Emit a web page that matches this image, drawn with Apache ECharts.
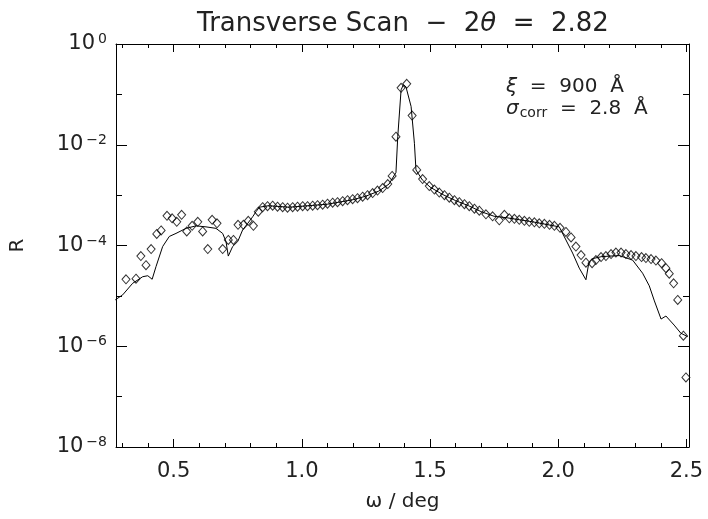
<!DOCTYPE html>
<html>
<head>
<meta charset="utf-8">
<script src="https://cdn.jsdelivr.net/npm/echarts@6/dist/echarts.min.js"></script>
<style>html,body{margin:0;padding:0;background:#fff}#c{width:708px;height:519px}</style>
</head>
<body>
<div id="c"></div>
<script>
// measured data (omega in deg, log10 R)
var dataOmega = [0.314,0.353,0.372,0.392,0.412,0.434,0.451,0.474,0.494,0.512,0.531,0.551,0.572,0.594,0.613,0.633,0.650,0.669,0.691,0.713,0.733,0.751,0.772,0.791,0.811,0.830,0.847,
0.866,0.886,0.905,0.925,0.944,0.964,0.983,1.003,1.022,1.042,1.061,1.081,1.100,1.120,1.139,1.159,1.178,1.198,1.217,1.237,1.256,1.276,1.295,1.315,1.335,1.352,1.367,1.387,1.409,1.430,1.448,1.471,1.497,1.517,1.536,1.556,1.575,1.595,1.614,1.634,1.653,1.673,1.692,1.718,1.744,1.770,1.790,1.809,1.829,1.848,1.868,1.887,1.907,1.926,1.946,1.966,1.985,2.007,2.030,2.050,2.069,2.089,2.108,2.132,2.147,2.167,2.186,2.206,2.225,2.245,2.264,2.284,2.303,2.325,2.342,2.362,2.381,2.403,2.420,2.433,2.450,2.466,2.488,2.498];
var dataLogR = [-4.67,-4.66,-4.21,-4.39,-4.07,-3.77,-3.70,-3.41,-3.46,-3.53,-3.39,-3.72,-3.61,-3.53,-3.72,-4.07,-3.49,-3.56,-4.07,-3.89,-3.89,-3.59,-3.59,-3.51,-3.61,-3.33,-3.24,
-3.22,-3.21,-3.23,-3.24,-3.25,-3.24,-3.23,-3.22,-3.22,-3.21,-3.20,-3.19,-3.17,-3.15,-3.14,-3.12,-3.10,-3.08,-3.06,-3.03,-3.00,-2.96,-2.91,-2.86,-2.78,-2.62,-1.84,-0.87,-0.79,-1.42,-2.50,-2.68,-2.82,-2.89,-2.95,-3.00,-3.05,-3.10,-3.14,-3.18,-3.22,-3.27,-3.31,-3.38,-3.42,-3.50,-3.39,-3.46,-3.47,-3.49,-3.51,-3.53,-3.54,-3.56,-3.57,-3.59,-3.61,-3.65,-3.73,-3.84,-4.02,-4.19,-4.34,-4.35,-4.29,-4.23,-4.21,-4.17,-4.14,-4.14,-4.17,-4.19,-4.21,-4.23,-4.25,-4.27,-4.30,-4.35,-4.45,-4.56,-4.75,-5.08,-5.79,-6.62];
// model curve
var fitOmega = [0.272,0.301,0.340,0.379,0.399,0.416,0.431,0.457,0.483,0.509,0.548,0.587,0.626,0.665,0.691,0.704,0.713,0.730,0.750,0.769,0.789,0.808,0.821,0.834,0.870,0.950,1.000,1.100,1.200,1.250,1.300,1.340,1.367,1.374,1.387,1.396,1.406,1.426,1.439,1.445,1.470,1.500,1.550,1.600,1.650,1.700,1.750,1.800,1.900,2.004,2.030,2.056,2.082,2.108,2.119,2.134,2.170,2.238,2.290,2.329,2.355,2.375,2.401,2.420,2.452,2.478,2.505];
var fitLogR = [-5.08,-4.98,-4.75,-4.62,-4.60,-4.67,-4.42,-4.02,-3.82,-3.76,-3.66,-3.61,-3.63,-3.66,-3.76,-3.92,-4.21,-4.02,-3.92,-3.69,-3.56,-3.43,-3.33,-3.24,-3.21,-3.24,-3.22,-3.18,-3.09,-3.02,-2.92,-2.78,-2.55,-1.84,-0.91,-0.81,-0.85,-1.24,-1.97,-2.50,-2.70,-2.84,-2.99,-3.11,-3.21,-3.33,-3.42,-3.45,-3.53,-3.63,-3.89,-4.15,-4.45,-4.68,-4.35,-4.26,-4.22,-4.20,-4.29,-4.55,-4.80,-5.10,-5.46,-5.40,-5.58,-5.74,-5.81];
var xMajorTicks = [0.5,1.0,1.5,2.0,2.5];
var xMinorTicks = [0.3,0.4,0.6,0.7,0.8,0.9,1.1,1.2,1.3,1.4,1.6,1.7,1.8,1.9,2.1,2.2,2.3,2.4];

var FONT = 'DejaVu Sans';
var TXT = '#222';
var chart = echarts.init(document.getElementById('c'), null, {renderer:'canvas'});
function pairs(xs, ls){ return xs.map(function(x,i){ return [x, Math.pow(10, ls[i])]; }); }
var XMIN = 0.275, XMAX = 2.51;
var grid = {left:116, right:19, top:44, bottom:72};
function xAx(gi, pos, ticks, len, labels){
  return {type:'value', gridIndex:gi, position:pos, min:XMIN, max:XMAX,
    axisLine:{show:gi===0, onZero:false, lineStyle:{color:'#000', width:1}},
    axisTick:{show:true, inside:true, length:len, customValues:ticks, lineStyle:{color:'#000', width:1}},
    axisLabel:labels ? {show:true, customValues:ticks, formatter:function(v){return v.toFixed(1);}, fontFamily:FONT, fontSize:21, color:TXT, margin:14} : {show:false},
    splitLine:{show:false},
    name: labels ? 'ω / deg' : '', nameLocation:'middle', nameGap:45,
    nameTextStyle:{fontFamily:FONT, fontSize:20, color:TXT}};
}
function yAx(gi, pos, len, labels){
  return {type:'log', logBase:10, gridIndex:gi, position:pos, min:1e-8, max:1, interval: gi===0 ? 2 : 1,
    axisLine:{show:gi===0, onZero:false, lineStyle:{color:'#000', width:1}},
    axisTick:{show:true, inside:true, length:len, lineStyle:{color:'#000', width:1}},
    axisLabel:labels ? {show:true, margin:9, formatter:function(v){var e=Math.round(Math.log10(v)); return '{b|10}{s|'+(e<0?'−'+(-e):e)+'}';},
      rich:{b:{fontFamily:FONT, fontSize:21, color:TXT}, s:{fontFamily:FONT, fontSize:14, color:TXT, verticalAlign:'bottom', padding:[0,0,9,3]}}} : {show:false},
    splitLine:{show:false},
    name: labels ? 'R' : '', nameLocation:'middle', nameGap:88, nameRotate:90,
    nameTextStyle:{fontFamily:FONT, fontSize:20, color:TXT}};
}
var option = {
  backgroundColor:'#fff',
  animation:false,
  grid:[grid, Object.assign({}, grid)],
  xAxis:[xAx(0,'bottom',xMajorTicks,8,true), xAx(0,'top',xMajorTicks,8,false), xAx(1,'bottom',xMinorTicks,4,false), xAx(1,'top',xMinorTicks,4,false)],
  yAxis:[yAx(0,'left',11,true), yAx(0,'right',11,false), yAx(1,'left',6,false), yAx(1,'right',6,false)],
  graphic:[
    {type:'text', x:403, y:24, style:{text:'{a|Transverse Scan  −  2}{t|θ}{a|  =  2.82}', align:'center', verticalAlign:'middle', rich:{a:{fontFamily:FONT, fontSize:26, fill:TXT}, t:{fontFamily:FONT, fontSize:26, fontStyle:'italic', fill:TXT}}}},
    {type:'text', x:506, y:87, style:{text:'{g|ξ}{a|  =  900  Å}', verticalAlign:'middle', rich:{g:{fontFamily:FONT, fontSize:20, fontStyle:'italic', fill:TXT}, a:{fontFamily:FONT, fontSize:20, fill:TXT}}}},
    {type:'text', x:506, y:109, style:{text:'{g|σ}{c|corr}{a|  =  2.8  Å}', verticalAlign:'middle', rich:{g:{fontFamily:FONT, fontSize:20, fontStyle:'italic', fill:TXT}, c:{fontFamily:FONT, fontSize:14, fill:TXT, verticalAlign:'top', padding:[9,0,0,1]}, a:{fontFamily:FONT, fontSize:20, fill:TXT}}}}
  ],
  series:[
    {type:'line', xAxisIndex:0, yAxisIndex:0, data:pairs(fitOmega, fitLogR), showSymbol:false, symbol:'none', lineStyle:{color:'#000', width:1}, z:3},
    {type:'scatter', xAxisIndex:0, yAxisIndex:0, data:pairs(dataOmega, dataLogR), symbol:'diamond', symbolSize:[8,9], itemStyle:{color:'rgba(255,255,255,0)', borderColor:'#000', borderWidth:1}, z:2}
  ]
};
chart.setOption(option);
</script>
</body>
</html>
